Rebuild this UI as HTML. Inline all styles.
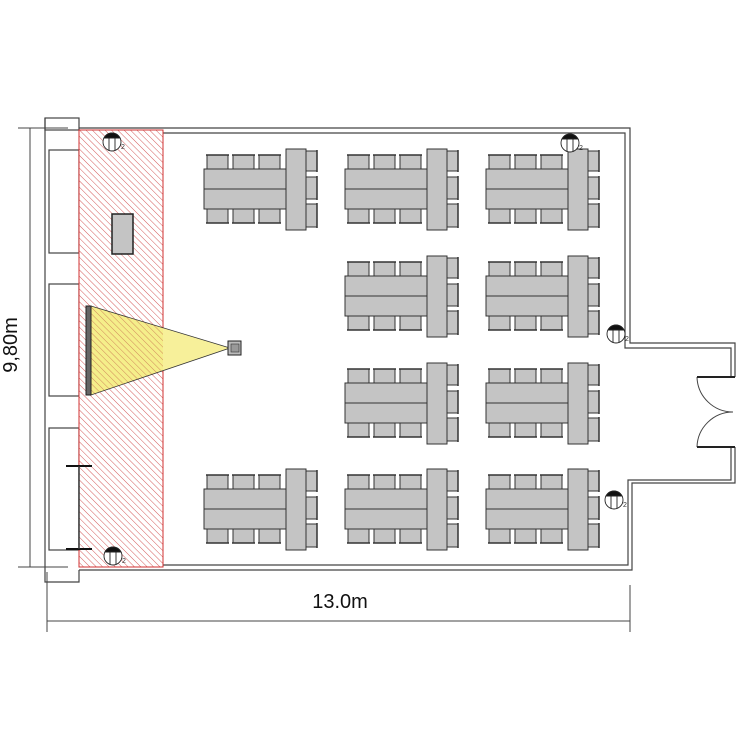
<!DOCTYPE html>
<html><head><meta charset="utf-8"><style>html,body{margin:0;padding:0;background:#fff}svg{display:block}</style></head>
<body>
<svg width="750" height="750" viewBox="0 0 750 750" xmlns="http://www.w3.org/2000/svg">
<defs>
<pattern id="h" width="4.5" height="4.5" patternUnits="userSpaceOnUse" patternTransform="rotate(-45)">
<rect width="5" height="5" fill="#fff"/><line x1="0" y1="0" x2="0" y2="5" stroke="#d04848" stroke-width="0.9"/>
</pattern>
<pattern id="hy" width="4.5" height="4.5" patternUnits="userSpaceOnUse" patternTransform="rotate(-45)">
<rect width="5" height="5" fill="#f5ee8a"/><line x1="0" y1="0" x2="0" y2="5" stroke="#c87050" stroke-width="0.8"/>
</pattern>
<g id="grp" stroke="#333" stroke-width="1">
<g fill="#c4c4c4">
<rect x="3" y="6" width="21" height="14"/><rect x="29" y="6" width="21" height="14"/><rect x="55" y="6" width="21" height="14"/>
<rect x="3" y="60" width="21" height="14"/><rect x="29" y="60" width="21" height="14"/><rect x="55" y="60" width="21" height="14"/>
<rect x="102" y="2" width="11" height="20"/><rect x="102" y="28" width="11" height="22"/><rect x="102" y="55" width="11" height="23"/>
<rect x="0" y="20" width="82" height="40"/>
<rect x="82" y="0" width="20" height="81"/>
</g>
<line x1="0" y1="40" x2="82" y2="40"/>
<g stroke-width="1.5"><line x1="2" y1="6" x2="25" y2="6"/><line x1="28" y1="6" x2="51" y2="6"/><line x1="54" y1="6" x2="77" y2="6"/>
<line x1="2" y1="74" x2="25" y2="74"/><line x1="28" y1="74" x2="51" y2="74"/><line x1="54" y1="74" x2="77" y2="74"/>
<line x1="113" y1="1" x2="113" y2="23"/><line x1="113" y1="27" x2="113" y2="51"/><line x1="113" y1="54" x2="113" y2="79"/></g>
</g>
<g id="spk" stroke="#222" stroke-width="0.9" fill="none">
<circle cx="0" cy="0" r="9" fill="#fff"/>
<path d="M-8,-4 A9,9 0 0 1 8,-4 Z" fill="#111"/>
<line x1="-3" y1="-4" x2="-3" y2="8"/><line x1="3" y1="-4" x2="3" y2="8"/>
<text x="9" y="7" font-size="7" font-family="Liberation Sans, sans-serif" fill="#333" stroke="none">2</text>
</g>
</defs>
<g fill="none" stroke="#444" stroke-width="1.2">
<path d="M79,128 H630 V343 H735 V377"/>
<path d="M735,447 V483 H632 V570 H79"/>
<path d="M163,133 H625 V348 H731 V377"/>
<path d="M731,447 V480 H628 V565 H163"/>
<rect x="45" y="118" width="34" height="12"/>
<path d="M45,118 V582 H79 V570"/>
<rect x="49" y="150" width="30" height="103"/>
<rect x="49" y="284" width="30" height="112"/>
<rect x="49" y="428" width="30" height="122"/>
<path d="M697,377 A36,36 0 0 0 733,412" stroke-width="1"/>
<path d="M697,447 A36,36 0 0 1 733,412" stroke-width="1"/>
</g>
<g stroke="#222" stroke-width="2"><line x1="697" y1="377" x2="735" y2="377"/><line x1="697" y1="447" x2="735" y2="447"/></g>
<g stroke="#444" stroke-width="1">
<line x1="30" y1="128" x2="30" y2="567"/>
<line x1="18" y1="128" x2="68" y2="128"/><line x1="18" y1="567" x2="68" y2="567"/>
<line x1="47" y1="621" x2="630" y2="621"/>
<line x1="47" y1="572" x2="47" y2="632"/><line x1="630" y1="585" x2="630" y2="632"/>
</g>
<text x="340" y="608" font-size="20" text-anchor="middle" font-family="Liberation Sans, sans-serif" fill="#111">13.0m</text>
<text transform="translate(17,345) rotate(-90)" font-size="20" text-anchor="middle" font-family="Liberation Sans, sans-serif" fill="#111">9,80m</text>
<rect x="79" y="130" width="84" height="437" fill="url(#h)" stroke="#d03030" stroke-width="1"/>
<rect x="112" y="214" width="21" height="40" fill="#c4c4c4" stroke="#222" stroke-width="1.5"/>
<polygon points="91,306 91,395 163,370.6 163,328" fill="url(#hy)"/>
<polygon points="163,328 163,370.6 230,348" fill="#f7f09a"/>
<polygon points="91,306 91,395 230,348" fill="none" stroke="#333" stroke-width="0.8"/>
<rect x="86" y="306" width="5" height="89" fill="#666" stroke="#222"/>
<rect x="228" y="341" width="13" height="14" fill="#bbb" stroke="#222"/>
<rect x="231" y="344" width="8" height="8" fill="#999" stroke="#333" stroke-width="0.6"/>
<g stroke="#111" stroke-width="2"><line x1="66" y1="466" x2="92" y2="466"/><line x1="66" y1="549" x2="92" y2="549"/></g>
<line x1="79" y1="466" x2="79" y2="549" stroke="#333" stroke-width="1.5"/>
<use href="#grp" x="204" y="149"/><use href="#grp" x="345" y="149"/><use href="#grp" x="486" y="149"/>
<use href="#grp" x="345" y="256"/><use href="#grp" x="486" y="256"/>
<use href="#grp" x="345" y="363"/><use href="#grp" x="486" y="363"/>
<use href="#grp" x="204" y="469"/><use href="#grp" x="345" y="469"/><use href="#grp" x="486" y="469"/>
<use href="#spk" x="112" y="142"/><use href="#spk" x="570" y="143"/><use href="#spk" x="616" y="334"/><use href="#spk" x="614" y="500"/><use href="#spk" x="113" y="556"/>
</svg>
</body></html>
